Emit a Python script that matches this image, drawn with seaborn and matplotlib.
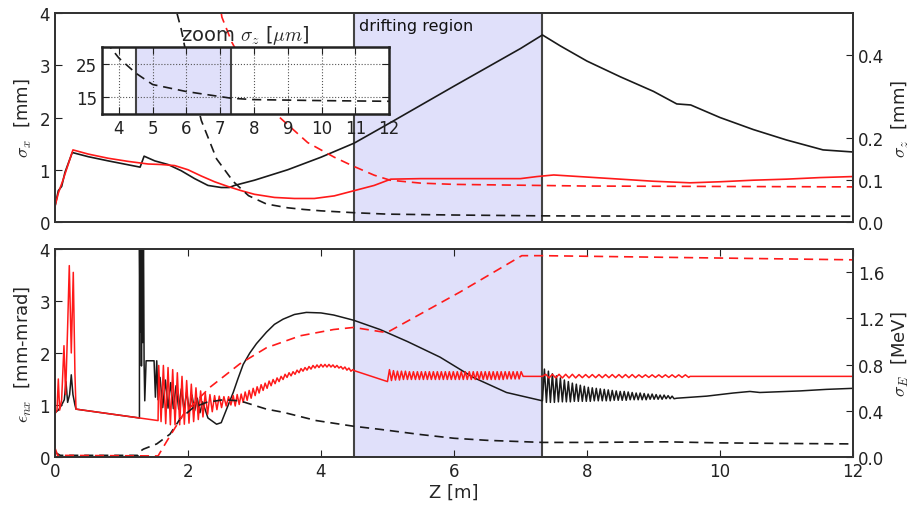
import matplotlib
matplotlib.use("Agg")
import matplotlib.pyplot as plt
import seaborn as sns

# ---------------- data ----------------
drift_start, drift_end = 4.5, 7.33

# top panel: sigma_x [mm] (left axis), case A (black) and case B (red)
z_sx_a = [0, 0.05, 0.1, 0.15, 0.26, 0.5, 0.8, 1.0, 1.28, 1.34, 1.5, 1.7, 1.9, 2.1, 2.3,
          2.5, 2.62, 2.7, 3.0, 3.5, 4.0, 4.5, 5.0, 6.0, 7.0, 7.33, 7.6, 8.0, 8.5, 9.0,
          9.35, 9.56, 10.0, 10.5, 11.0, 11.55, 12.0]
sx_a = [0.3, 0.6, 0.68, 0.95, 1.33, 1.25, 1.17, 1.12, 1.05, 1.26, 1.17, 1.1, 0.98, 0.83,
        0.7, 0.66, 0.66, 0.7, 0.8, 1.0, 1.24, 1.51, 1.87, 2.6, 3.32, 3.58, 3.37, 3.08, 2.78,
        2.5, 2.26, 2.24, 2.0, 1.77, 1.57, 1.38, 1.34]
z_sx_b = [0, 0.05, 0.08, 0.12, 0.27, 0.5, 0.8, 1.1, 1.4, 1.6, 1.8, 2.0, 2.2, 2.4, 2.6,
          2.8, 3.0, 3.3, 3.6, 3.9, 4.2, 4.5, 4.8, 5.05, 5.5, 6.0, 6.5, 7.0, 7.25, 7.5,
          8.0, 8.5, 9.0, 9.55, 10.0, 10.5, 11.0, 11.5, 12.0]
sx_b = [0.3, 0.55, 0.66, 0.8, 1.38, 1.3, 1.22, 1.16, 1.11, 1.1, 1.08, 1.0, 0.88, 0.77,
        0.68, 0.6, 0.53, 0.47, 0.45, 0.45, 0.5, 0.6, 0.7, 0.82, 0.83, 0.83, 0.83, 0.83,
        0.87, 0.9, 0.86, 0.82, 0.78, 0.75, 0.77, 0.8, 0.82, 0.85, 0.87]

# top panel: sigma_z [mm] (right axis)
z_sz_a = [1.5, 1.75, 1.9, 2.05, 2.2, 2.43, 2.68, 2.91, 3.18, 3.5, 3.74, 4.0, 4.5, 5.0,
          6.0, 7.0, 7.33, 8.0, 10.0, 12.0]
sz_a = [1.2, 0.55, 0.46, 0.34, 0.243, 0.151, 0.097, 0.063, 0.043, 0.034, 0.030, 0.0267,
        0.0222, 0.0188, 0.0167, 0.0152, 0.0147, 0.0143, 0.014, 0.0138]
z_sz_b = [2.2, 2.51, 2.66, 3.0, 3.38, 3.8, 4.2, 4.48, 4.8, 5.04, 5.5, 6.0, 7.0, 8.0, 10.0, 12.0]
sz_b = [0.8, 0.49, 0.43, 0.33, 0.25, 0.19, 0.155, 0.134, 0.112, 0.1, 0.093, 0.09, 0.088,
        0.086, 0.085, 0.084]

# bottom panel: normalised emittance [mm-mrad] (left axis), case A (black)
z_en_a_start = [0, 0.05, 0.1, 0.14, 0.165, 0.19, 0.22, 0.245, 0.27, 0.3, 0.316, 1.27,
                1.27, 1.28, 1.29, 1.30, 1.31, 1.32, 1.33, 1.34, 1.35, 1.37, 1.49, 1.51,
                1.53, 1.55]
en_a_start = [0.85, 0.9, 1.0, 1.1, 1.45, 1.05, 1.2, 1.58, 1.2, 1.0, 0.92, 0.75,
              4.5, 2.4, 4.5, 1.75, 4.5, 2.2, 4.5, 1.8, 1.08, 1.85, 1.85, 1.15, 1.85, 1.1]
z_en_a_osc1_pk = [1.58, 1.66, 1.74, 1.82, 1.90, 1.98, 2.06, 2.14, 2.22]
en_a_osc1_pk = [1.53, 1.48, 1.43, 1.37, 1.31, 1.25, 1.19, 1.13, 1.06]
z_en_a_osc1_tr = [1.62, 1.70, 1.78, 1.86, 1.94, 2.02, 2.10, 2.18]
en_a_osc1_tr = [0.95, 0.94, 0.93, 0.92, 0.91, 0.90, 0.89, 0.85]
z_en_a_mid = [2.3, 2.43, 2.5, 2.58, 2.68, 2.75, 2.83, 2.93, 3.03, 3.18, 3.3, 3.43, 3.6,
              3.78, 4.0, 4.19, 4.49, 4.89, 5.3, 5.79, 6.29, 6.79, 7.33]
en_a_mid = [0.75, 0.63, 0.66, 0.92, 1.24, 1.5, 1.78, 2.0, 2.18, 2.4, 2.55, 2.65, 2.74,
            2.78, 2.77, 2.73, 2.63, 2.45, 2.22, 1.92, 1.53, 1.24, 1.08]
z_en_a_osc2_pk = [7.36, 7.42, 7.48, 7.54, 7.60, 7.66, 7.72, 7.78, 7.84, 7.90, 7.96, 8.02,
                  8.08, 8.14, 8.20, 8.26, 8.32, 8.38, 8.44, 8.50, 8.56, 8.62, 8.68, 8.74,
                  8.80, 8.86, 8.92, 8.98, 9.04, 9.10, 9.16, 9.22, 9.28]
en_a_osc2_pk = [1.69, 1.65, 1.60, 1.56, 1.52, 1.48, 1.45, 1.42, 1.40, 1.38, 1.36, 1.34,
                1.33, 1.32, 1.31, 1.30, 1.29, 1.28, 1.27, 1.26, 1.26, 1.25, 1.24, 1.23,
                1.23, 1.22, 1.21, 1.21, 1.20, 1.19, 1.19, 1.18, 1.17]
z_en_a_osc2_tr = [7.39, 7.45, 7.51, 7.57, 7.63, 7.69, 7.75, 7.81, 7.87, 7.93, 7.99, 8.05,
                  8.11, 8.17, 8.23, 8.29, 8.35, 8.41, 8.47, 8.53, 8.59, 8.65, 8.71, 8.77,
                  8.83, 8.89, 8.95, 9.01, 9.07, 9.13, 9.19, 9.25, 9.31]
en_a_osc2_tr = [1.05, 1.05, 1.05, 1.06, 1.06, 1.06, 1.06, 1.07, 1.07, 1.07, 1.07, 1.07,
                1.08, 1.08, 1.08, 1.08, 1.08, 1.09, 1.09, 1.09, 1.09, 1.10, 1.10, 1.10,
                1.10, 1.10, 1.11, 1.11, 1.11, 1.11, 1.12, 1.12, 1.12]
z_en_a_end = [9.35, 9.8, 10.2, 10.45, 10.6, 11.2, 11.6, 12.0]
en_a_end = [1.13, 1.17, 1.23, 1.26, 1.24, 1.27, 1.30, 1.32]

# bottom panel: normalised emittance [mm-mrad], case B (red)
z_en_b_start = [0, 0.03, 0.05, 0.07, 0.1, 0.135, 0.16, 0.19, 0.215, 0.245, 0.275, 0.3,
                0.316, 1.55]
en_b_start = [0.83, 0.9, 1.5, 0.9, 1.1, 2.14, 1.2, 2.5, 3.68, 2.0, 3.55, 1.6, 0.92, 0.70]
z_en_b_osc1_pk = [1.56, 1.63, 1.70, 1.77, 1.84, 1.91, 1.98, 2.05, 2.12, 2.19, 2.26, 2.33,
                  2.40, 2.47, 2.54, 2.61]
en_b_osc1_pk = [1.76, 1.76, 1.72, 1.68, 1.62, 1.55, 1.47, 1.40, 1.33, 1.27, 1.23, 1.20,
                1.18, 1.17, 1.16, 1.16]
z_en_b_osc1_tr = [1.595, 1.665, 1.735, 1.805, 1.875, 1.945, 2.015, 2.085, 2.155, 2.225,
                  2.295, 2.365, 2.435, 2.505, 2.575, 2.645]
en_b_osc1_tr = [0.68, 0.64, 0.62, 0.62, 0.62, 0.63, 0.65, 0.68, 0.72, 0.77, 0.82, 0.87,
                0.91, 0.95, 0.98, 1.00]
z_en_b_osc2_pk = [2.68, 2.74, 2.80, 2.86, 2.92, 2.98, 3.04, 3.10, 3.16, 3.22, 3.28, 3.34,
                  3.40, 3.46, 3.52, 3.58, 3.64, 3.70, 3.76, 3.82, 3.88, 3.94, 4.00, 4.06,
                  4.12, 4.18, 4.24, 4.30, 4.36, 4.42, 4.48]
en_b_osc2_pk = [1.18, 1.20, 1.21, 1.25, 1.28, 1.32, 1.35, 1.39, 1.42, 1.46, 1.49, 1.52,
                1.55, 1.59, 1.62, 1.64, 1.67, 1.70, 1.72, 1.74, 1.76, 1.77, 1.78, 1.78,
                1.78, 1.77, 1.76, 1.74, 1.73, 1.71, 1.68]
z_en_b_osc2_tr = [2.71, 2.77, 2.83, 2.89, 2.95, 3.01, 3.07, 3.13, 3.19, 3.25, 3.31, 3.37,
                  3.43, 3.49, 3.55, 3.61, 3.67, 3.73, 3.79, 3.85, 3.91, 3.97, 4.03, 4.09,
                  4.15, 4.21, 4.27, 4.33, 4.39, 4.45]
en_b_osc2_tr = [0.98, 1.01, 1.05, 1.09, 1.13, 1.18, 1.23, 1.28, 1.32, 1.37, 1.41, 1.45,
                1.49, 1.53, 1.56, 1.59, 1.62, 1.65, 1.67, 1.69, 1.71, 1.72, 1.73, 1.73,
                1.73, 1.72, 1.71, 1.69, 1.67, 1.65]
z_en_b_mid = [4.5, 5.0]
en_b_mid = [1.66, 1.45]
z_en_b_osc3_pk = [5.03, 5.09, 5.15, 5.21, 5.27, 5.33, 5.39, 5.45, 5.51, 5.57, 5.63, 5.69,
                  5.75, 5.81, 5.87, 5.93, 5.99, 6.05, 6.11, 6.17, 6.23, 6.29, 6.35, 6.41,
                  6.47, 6.53, 6.59, 6.65, 6.71, 6.77, 6.83, 6.89, 6.95, 7.01]
en_b_osc3_pk = [1.68, 1.66, 1.65, 1.65, 1.65, 1.64, 1.64, 1.64, 1.64, 1.64, 1.64, 1.64,
                1.64, 1.64, 1.64, 1.64, 1.64, 1.64, 1.64, 1.64, 1.64, 1.64, 1.64, 1.64,
                1.64, 1.64, 1.64, 1.64, 1.64, 1.64, 1.64, 1.64, 1.64, 1.64]
z_en_b_osc3_tr = [5.06, 5.12, 5.18, 5.24, 5.30, 5.36, 5.42, 5.48, 5.54, 5.60, 5.66, 5.72,
                  5.78, 5.84, 5.90, 5.96, 6.02, 6.08, 6.14, 6.20, 6.26, 6.32, 6.38, 6.44,
                  6.50, 6.56, 6.62, 6.68, 6.74, 6.80, 6.86, 6.92, 6.98]
en_b_osc3_tr = [1.47, 1.48, 1.48, 1.49, 1.49, 1.49, 1.49, 1.49, 1.49, 1.49, 1.49, 1.49,
                1.49, 1.49, 1.49, 1.49, 1.49, 1.49, 1.49, 1.49, 1.49, 1.49, 1.49, 1.49,
                1.49, 1.49, 1.49, 1.49, 1.49, 1.50, 1.50, 1.50, 1.50]
z_en_b_flat1 = [7.04, 7.33]
en_b_flat1 = [1.55, 1.55]
z_en_b_osc4_pk = [7.38, 7.48, 7.58, 7.68, 7.78, 7.88, 7.98, 8.08, 8.18, 8.28, 8.38, 8.48,
                  8.58, 8.68, 8.78, 8.88, 8.98, 9.08, 9.18, 9.28, 9.38, 9.48]
en_b_osc4_pk = [1.59, 1.59, 1.59, 1.59, 1.59, 1.585, 1.585, 1.585, 1.585, 1.585, 1.585,
                1.585, 1.585, 1.585, 1.58, 1.58, 1.58, 1.58, 1.58, 1.58, 1.58, 1.58]
z_en_b_osc4_tr = [7.43, 7.53, 7.63, 7.73, 7.83, 7.93, 8.03, 8.13, 8.23, 8.33, 8.43, 8.53,
                  8.63, 8.73, 8.83, 8.93, 9.03, 9.13, 9.23, 9.33, 9.43, 9.53]
en_b_osc4_tr = [1.52, 1.52, 1.52, 1.52, 1.52, 1.525, 1.525, 1.525, 1.525, 1.525, 1.525,
                1.525, 1.525, 1.525, 1.53, 1.53, 1.53, 1.53, 1.53, 1.53, 1.53, 1.53]
z_en_b_end = [9.55, 12.0]
en_b_end = [1.55, 1.55]

# bottom panel: energy spread sigma_E [MeV] (right axis)
z_se_a = [0, 0.08, 1.25, 1.27, 1.33, 1.53, 1.73, 1.88, 2.08, 2.28, 2.53, 2.78, 3.18, 3.43,
          3.93, 4.49, 4.89, 5.5, 6.0, 6.5, 7.33, 8.0, 9.2, 10.0, 11.0, 12.0]
se_a = [0.04, 0.014, 0.014, 0.045, 0.068, 0.113, 0.198, 0.329, 0.428, 0.473, 0.495, 0.486,
        0.414, 0.387, 0.315, 0.266, 0.239, 0.194, 0.162, 0.144, 0.126, 0.126, 0.131, 0.122,
        0.117, 0.113]
z_se_b = [0, 0.04, 1.55, 1.68, 1.93, 2.33, 2.78, 3.18, 3.69, 4.19, 4.49, 4.99, 6.09, 7.02,
          7.33, 12.0]
se_b = [0.077, 0.014, 0.009, 0.135, 0.369, 0.603, 0.806, 0.945, 1.049, 1.103, 1.121, 1.076,
        1.427, 1.742, 1.742, 1.706]

top_right_ticks = [0.0, 0.1, 0.2, 0.4]
bot_right_ticks = [0.0, 0.4, 0.8, 1.2, 1.6]
inset_xticks = [4, 5, 6, 7, 8, 9, 10, 11, 12]
inset_yticks = [15, 25]


def zigzag(zp, vp, zt, vt):
    pts = sorted(list(zip(zp, vp)) + list(zip(zt, vt)))
    return [p[0] for p in pts], [p[1] for p in pts]


za1, va1 = zigzag(z_en_a_osc1_pk, en_a_osc1_pk, z_en_a_osc1_tr, en_a_osc1_tr)
za2, va2 = zigzag(z_en_a_osc2_pk, en_a_osc2_pk, z_en_a_osc2_tr, en_a_osc2_tr)
z_en_a = z_en_a_start + za1 + z_en_a_mid + za2 + z_en_a_end
en_a = en_a_start + va1 + en_a_mid + va2 + en_a_end

zb1, vb1 = zigzag(z_en_b_osc1_pk, en_b_osc1_pk, z_en_b_osc1_tr, en_b_osc1_tr)
zb2, vb2 = zigzag(z_en_b_osc2_pk, en_b_osc2_pk, z_en_b_osc2_tr, en_b_osc2_tr)
zb3, vb3 = zigzag(z_en_b_osc3_pk, en_b_osc3_pk, z_en_b_osc3_tr, en_b_osc3_tr)
zb4, vb4 = zigzag(z_en_b_osc4_pk, en_b_osc4_pk, z_en_b_osc4_tr, en_b_osc4_tr)
z_en_b = z_en_b_start + zb1 + zb2 + z_en_b_mid + zb3 + z_en_b_flat1 + zb4 + z_en_b_end
en_b = en_b_start + vb1 + vb2 + en_b_mid + vb3 + en_b_flat1 + vb4 + en_b_end

# ---------------- style ----------------
sns.set_style("ticks")
plt.rcParams.update({
    "font.family": ["DejaVu Sans"],
    "mathtext.fontset": "cm",
    "font.size": 12,
    "axes.edgecolor": "#333333",
    "axes.linewidth": 1.3,
    "xtick.direction": "in",
    "ytick.direction": "in",
    "xtick.major.size": 5,
    "ytick.major.size": 5,
    "xtick.color": "#222222",
    "ytick.color": "#222222",
    "xtick.labelsize": 12,
    "ytick.labelsize": 12,
})

BLACK = "#1a1a1a"
RED = "#ff1a1a"
SHADE = "#e0e0fa"
EDGE = "#444444"
DASH = (0, (5.5, 3.5))

fig = plt.figure(figsize=(9.15, 5.06), dpi=100)
ax1 = fig.add_axes([0.0601, 0.5593, 0.8721, 0.4130])
ax1r = ax1.twinx()
ax2 = fig.add_axes([0.0601, 0.0949, 0.8721, 0.4111])
ax2r = ax2.twinx()
axi = fig.add_axes([0.1115, 0.7727, 0.3137, 0.1324])
axi.set_zorder(10)


def line(ax, z, v, color, dashed=False, lw=1.2):
    kw = dict(linestyle=DASH) if dashed else {}
    sns.lineplot(x=z, y=v, ax=ax, color=color, lw=lw, sort=False, estimator=None, **kw)


for ax in (ax1, ax2, axi):
    ax.axvspan(drift_start, drift_end, color=SHADE, zorder=0, lw=0)
    ax.axvline(drift_start, color=EDGE, lw=1.5, zorder=1)
    ax.axvline(drift_end, color=EDGE, lw=1.5, zorder=1)

# top panel
line(ax1, z_sx_a, sx_a, BLACK)
line(ax1, z_sx_b, sx_b, RED)
line(ax1r, z_sz_a, sz_a, BLACK, dashed=True)
line(ax1r, z_sz_b, sz_b, RED, dashed=True)

# bottom panel
line(ax2, z_en_a, en_a, BLACK, lw=1.1)
line(ax2, z_en_b, en_b, RED, lw=1.1)
line(ax2r, z_se_a, se_a, BLACK, dashed=True)
line(ax2r, z_se_b, se_b, RED, dashed=True)

# inset (sigma_z in micrometres)
line(axi, z_sz_a, [v * 1000 for v in sz_a], BLACK, dashed=True)

# axes setup
for ax in (ax1, ax1r, ax2, ax2r):
    ax.set_xlim(0, 12)
ax1.set_ylim(0, 4)
ax1r.set_ylim(0, 0.5)
ax2.set_ylim(0, 4)
ax2r.set_ylim(0, 1.8)

ax1.set_yticks([0, 1, 2, 3, 4])
ax2.set_yticks([0, 1, 2, 3, 4])
ax1r.set_yticks(top_right_ticks)
ax1r.set_yticklabels([f"{t:.1f}" for t in top_right_ticks])
ax2r.set_yticks(bot_right_ticks)
ax2r.set_yticklabels([f"{t:.1f}" for t in bot_right_ticks])
ax2.set_xticks([0, 2, 4, 6, 8, 10, 12])

ax1.tick_params(axis="x", bottom=False, top=False, labelbottom=False)
ax1r.tick_params(axis="x", bottom=False, top=False, labelbottom=False)
ax1.tick_params(axis="y", left=True, right=False)
ax1r.tick_params(axis="y", right=True, left=False)
ax2.tick_params(axis="x", bottom=True, top=True)
ax2.tick_params(axis="y", left=True, right=False)
ax2r.tick_params(axis="y", right=True, left=False)

ax1.set_ylabel(r"$\sigma_x$  [mm]", fontsize=13)
ax1r.set_ylabel(r"$\sigma_z$  [mm]", fontsize=13)
ax2.set_ylabel(r"$\epsilon_{nx}$  [mm-mrad]", fontsize=13)
ax2r.set_ylabel(r"$\sigma_E$  [MeV]", fontsize=13)
ax2.set_xlabel("Z [m]", fontsize=13, labelpad=2)

ax1.text(drift_start + 0.07, 3.77, "drifting region", fontsize=11.5, va="center",
         ha="left", color="#111111")

axi.set_facecolor("white")
axi.set_xlim(3.5, 12)
axi.set_ylim(10, 30)
axi.set_xticks(inset_xticks)
axi.set_yticks(inset_yticks)
axi.grid(True, linestyle=":", color="#555555", lw=0.8)
axi.tick_params(axis="both", direction="in", top=True, right=True, labelsize=12)
for s in axi.spines.values():
    s.set_linewidth(1.8)
    s.set_color("#222222")
axi.set_title(r"zoom $\sigma_z$ [$\mu m$]", fontsize=14, pad=5)

fig.savefig("out.png", dpi=100)
